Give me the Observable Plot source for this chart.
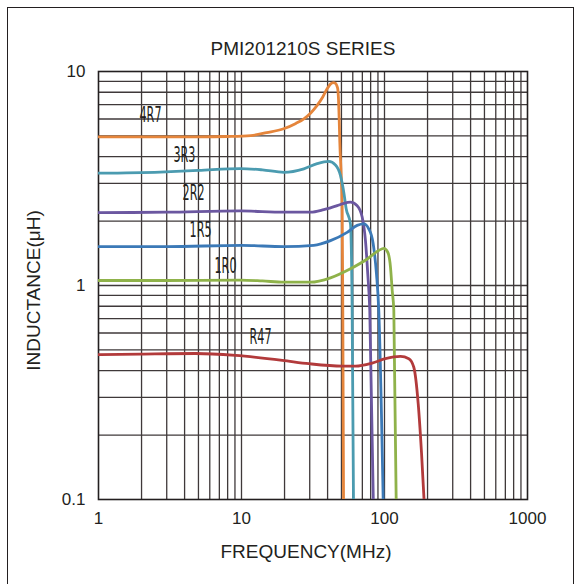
<!DOCTYPE html>
<html><head><meta charset="utf-8">
<script src="https://cdn.jsdelivr.net/npm/d3@7"></script>
<script src="https://cdn.jsdelivr.net/npm/@observablehq/plot@0.6"></script>
<style>
body{margin:0;background:#fff;}
#wrap{position:relative;width:581px;height:584px;overflow:hidden;background:#fff;}
#frame{position:absolute;left:7px;top:7px;width:567px;height:610px;border:1.5px solid #231f20;box-sizing:border-box;pointer-events:none;}
#title{box-sizing:border-box;height:60px;padding-top:39px;padding-left:25px;text-align:center;font-family:"Liberation Sans",Arial,sans-serif;font-size:19px;line-height:19px;color:#231f20;}
#chart svg{display:block;}
</style>
</head><body>
<div id="wrap">
<div id="frame"></div>
<div id="title">PMI201210S SERIES</div>
<div id="chart"></div>
</div>
<script>
// ---- data ----
const names  = ["4R7", "3R3", "2R2", "1R5", "1R0", "R47"];
const colors = ["#e5853b", "#4b9bb0", "#6b57a0", "#3b79b7", "#8fb24a", "#b23a3b"];

const f4R7 = [1, 2, 5, 8, 11.6, 15, 19.7, 24, 27.3, 30.5, 33.8, 37, 39.7, 42, 43.8, 45.5, 46.5, 47.1, 47.6, 48.2, 48.7, 49.8, 50.6, 51.1, 51.7];
const L4R7 = [4.95, 4.95, 4.95, 4.97, 5.02, 5.18, 5.40, 5.72, 6.01, 6.4, 6.94, 7.6, 8.3, 8.75, 8.88, 8.8, 8.55, 8.3, 7.6, 6.0, 4.67, 3.27, 2.29, 0.76, 0.1];

const f3R3 = [1, 2.7, 5, 9.8, 14, 19.8, 27.3, 33.8, 40.8, 45.4, 49.2, 51.9, 54, 57.8, 59.4, 60.7];
const L3R3 = [3.35, 3.39, 3.45, 3.52, 3.47, 3.38, 3.51, 3.71, 3.80, 3.66, 3.27, 2.73, 2.28, 1.94, 0.764, 0.1];

const f2R2 = [1, 3, 9.8, 19.8, 30.4, 37.6, 46.7, 52, 57.8, 64.4, 69.8, 73.6, 76.4, 78.9, 83.5];
const L2R2 = [2.19, 2.2, 2.23, 2.20, 2.20, 2.26, 2.36, 2.42, 2.45, 2.36, 2.09, 1.62, 1.13, 0.764, 0.1];

const f1R5 = [1, 3, 10, 19.8, 32, 41.9, 54.8, 64.4, 71.7, 77.6, 83.3, 87.9, 91.2, 97.9];
const L1R5 = [1.52, 1.52, 1.54, 1.52, 1.54, 1.62, 1.77, 1.91, 1.94, 1.84, 1.57, 1.13, 0.764, 0.1];

const f1R0 = [1, 3, 9.8, 14, 19.8, 30.4, 41.9, 57.8, 75.7, 91.2, 98.9, 105.4, 110.1, 113.2, 116.2, 120.7];
const L1R0 = [1.055, 1.055, 1.06, 1.05, 1.036, 1.036, 1.086, 1.197, 1.33, 1.458, 1.49, 1.43, 1.22, 0.948, 0.764, 0.1];

const fR47 = [1, 1.97, 4.77, 9.08, 19.3, 29.6, 50.6, 62.7, 82, 101.6, 129.4, 147.9, 160.3, 172.1, 181.6, 189];
const LR47 = [0.475, 0.478, 0.481, 0.471, 0.447, 0.431, 0.420, 0.420, 0.434, 0.455, 0.466, 0.455, 0.415, 0.280, 0.164, 0.1];

const labelX = [2.31, 3.99, 4.62, 5.17, 7.73, 13.6];
const labelY = [6.23, 4.08, 2.69, 1.81, 1.23, 0.571];

const xTicks = [1, 10, 100, 1000];
const yTicks = [0.1, 1, 10];
const xGrid = [2,3,4,5,6,7,8,9,10,20,30,40,50,60,70,80,90,100,200,300,400,500,600,700,800,900];
const yGrid = [0.2,0.3,0.4,0.5,0.6,0.7,0.8,0.9,1,2,3,4,5,6,7,8,9];

// ---- build table ----
const fs = [f4R7, f3R3, f2R2, f1R5, f1R0, fR47];
const Ls = [L4R7, L3R3, L2R2, L1R5, L1R0, LR47];
const rows = names.flatMap((n, k) => fs[k].map((f, i) => ({name: n, f, L: Ls[k][i]})));

const chart = Plot.plot({
  width: 581, height: 524,
  marginLeft: 98, marginRight: 54, marginTop: 11, marginBottom: 85,
  style: {fontFamily: "'Liberation Sans', Arial, sans-serif", fontSize: "17px", color: "#231f20", background: "transparent", overflow: "visible"},
  x: {type: "log", domain: [1, 1000], ticks: xTicks, tickFormat: d => String(d), tickSize: 0, tickPadding: 12, label: null},
  y: {type: "log", domain: [0.1, 10], ticks: yTicks, tickFormat: d => String(d), tickSize: 0, tickPadding: 13, label: null},
  color: {domain: names, range: colors},
  marks: [
    Plot.ruleX(xGrid, {stroke: "#3f393a", strokeWidth: 1.3}),
    Plot.ruleY(yGrid, {stroke: "#3f393a", strokeWidth: 1.3}),
    Plot.frame({stroke: "#231f20", strokeWidth: 1.6}),
    Plot.line(rows, {x: "f", y: "L", z: "name", stroke: "name", strokeWidth: 2.8, curve: "monotone-x", clip: true}),
    Plot.text(names, {x: labelX, y: labelY, text: d => d, fill: "#231f20", fontSize: 21, fontFamily: "'Liberation Sans Narrow', 'DejaVu Sans Condensed', sans-serif", className: "curvelabel"}),
    Plot.text(["FREQUENCY(MHz)"], {frameAnchor: "bottom", lineAnchor: "middle", textAnchor: "middle", dx: -7, dy: 52, text: d => d, fontSize: 19, fill: "#231f20"}),
    Plot.text(["INDUCTANCE(μH)"], {frameAnchor: "left", lineAnchor: "middle", textAnchor: "middle", rotate: -90, dx: -65, dy: 5, text: d => d, fontSize: 19, fill: "#231f20"})
  ]
});
document.getElementById("chart").appendChild(chart);
// squeeze the condensed curve labels
chart.querySelectorAll(".curvelabel text").forEach(t => {
  t.setAttribute("textLength", 22);
  t.setAttribute("lengthAdjust", "spacingAndGlyphs");
});
</script>
</body></html>
